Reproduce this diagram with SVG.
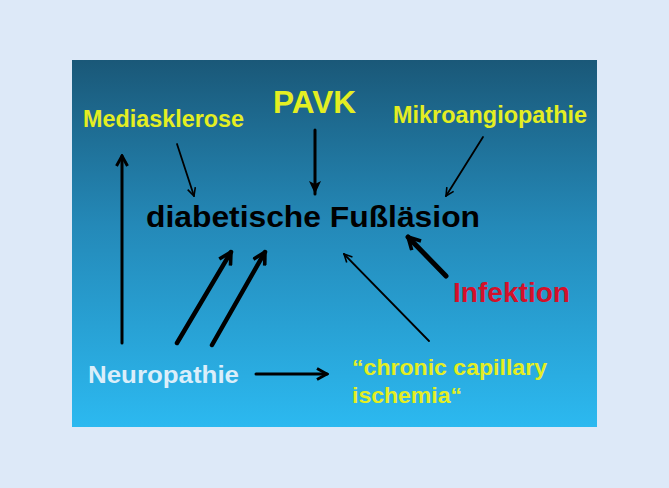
<svg xmlns="http://www.w3.org/2000/svg" width="669" height="488" viewBox="0 0 669 488">
<defs>
<linearGradient id="bg" x1="0" y1="0" x2="0" y2="1">
<stop offset="0" stop-color="#1a5878"/>
<stop offset="0.45" stop-color="#2489b8"/>
<stop offset="1" stop-color="#2cb9f0"/>
</linearGradient>
<marker id="ah" viewBox="0 0 10 10" refX="9" refY="5" markerWidth="10" markerHeight="10" markerUnits="userSpaceOnUse" orient="auto">
<path d="M1,1 L9,5 L1,9" fill="none" stroke="#000" stroke-width="1.6"/>
</marker>
<marker id="ahb" viewBox="0 0 14 14" refX="12" refY="7" markerWidth="14" markerHeight="14" markerUnits="userSpaceOnUse" orient="auto">
<path d="M2,1.5 L12,7 L2,12.5" fill="none" stroke="#000" stroke-width="3"/>
</marker>
<marker id="ahf" viewBox="0 0 14 14" refX="13" refY="7" markerWidth="14" markerHeight="14" markerUnits="userSpaceOnUse" orient="auto">
<path d="M0,1 L13,7 L0,13 L3,7 Z" fill="#000"/>
</marker>
<marker id="ahc" viewBox="0 0 16 16" refX="14" refY="8" markerWidth="16" markerHeight="16" markerUnits="userSpaceOnUse" orient="auto">
<path d="M2,1.5 L14,8 L2,14.5" fill="none" stroke="#000" stroke-width="3.6"/>
</marker>
</defs>
<style>
.t{font-family:"Liberation Sans",Arial,sans-serif;font-weight:bold}
.y{fill:#e4ee22}
.c{fill:none;stroke:#000;stroke-linecap:round}
</style>
<rect width="669" height="488" fill="#dde9f8"/>
<rect x="72" y="60" width="525" height="367" fill="url(#bg)"/>
<g id="connectors">
<line class="c" x1="177" y1="144" x2="194" y2="196" stroke-width="1.8" marker-end="url(#ah)"/>
<line class="c" x1="315" y1="130" x2="315" y2="194" stroke-width="3" marker-end="url(#ahf)"/>
<line class="c" x1="483" y1="137" x2="446" y2="196" stroke-width="1.8" marker-end="url(#ah)"/>
<line class="c" x1="122" y1="343" x2="122" y2="156" stroke-width="3" marker-end="url(#ahb)"/>
<line class="c" x1="177" y1="343" x2="231" y2="252" stroke-width="4.5" marker-end="url(#ahc)"/>
<line class="c" x1="212" y1="345" x2="265" y2="252" stroke-width="4.5" marker-end="url(#ahc)"/>
<line class="c" x1="429" y1="341" x2="344" y2="254" stroke-width="1.8" marker-end="url(#ah)"/>
<line class="c" x1="446" y1="276" x2="408" y2="237" stroke-width="5" marker-end="url(#ahc)"/>
<line class="c" x1="256" y1="374" x2="327" y2="374" stroke-width="3" marker-end="url(#ahb)"/>
</g>
<g id="mediasklerose"><text class="t y" x="83" y="127" font-size="23" textLength="161" lengthAdjust="spacingAndGlyphs">Mediasklerose</text></g>
<g id="pavk"><text class="t y" x="273" y="113" font-size="31" textLength="83" lengthAdjust="spacingAndGlyphs">PAVK</text></g>
<g id="mikroangiopathie"><text class="t y" x="393" y="123" font-size="23" textLength="194" lengthAdjust="spacingAndGlyphs">Mikroangiopathie</text></g>
<g id="fussläsion"><text class="t" x="146" y="227" font-size="30" fill="#000" textLength="334" lengthAdjust="spacingAndGlyphs">diabetische Fußläsion</text></g>
<g id="infektion"><text class="t" x="453" y="302" font-size="27" fill="#d4102a" textLength="117" lengthAdjust="spacingAndGlyphs">Infektion</text></g>
<g id="neuropathie"><text class="t" x="88" y="383" font-size="24" fill="#dbeefa" textLength="151" lengthAdjust="spacingAndGlyphs">Neuropathie</text></g>
<g id="ischemia"><text class="t y" font-size="22"><tspan x="352" y="375" textLength="195" lengthAdjust="spacingAndGlyphs">“chronic capillary</tspan><tspan x="352" y="403" textLength="110" lengthAdjust="spacingAndGlyphs">ischemia“</tspan></text></g>
</svg>
